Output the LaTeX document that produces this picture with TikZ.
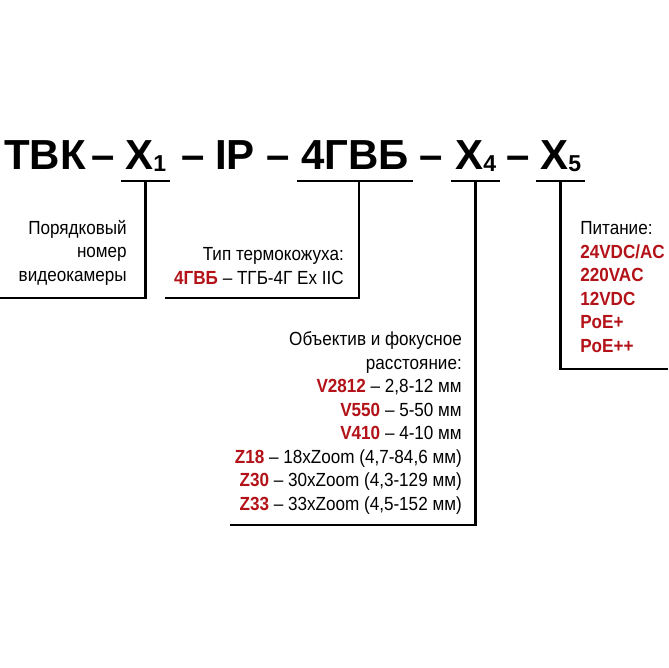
\documentclass[tikz,border=0pt]{standalone}
\usepackage{fontspec}
\setmainfont{Liberation Sans}
\newfontfamily\narrowfont[FakeStretch=0.9]{Liberation Sans}
\usetikzlibrary{positioning}
\definecolor{codered}{RGB}{178,18,24}
\newcommand{\idx}[1]{\raisebox{-2pt}{\fontsize{23}{23}\selectfont #1}}
\newcommand{\kod}[1]{\textcolor{codered}{\textbf{#1}}}

\begin{document}
\begin{tikzpicture}[x=1pt, y=-1pt, line width=2.5pt]
          % Стили для частей обозначения и подписей
          \tikzstyle{title} = [inner sep=0pt, anchor=base west, font=\fontsize{42}{42}\selectfont\bfseries]
          \tikzstyle{field} = [title, inner xsep=3pt, text depth=10pt]
          \tikzstyle{note} = [inner sep=0pt, font=\narrowfont\fontsize{19}{23.5}\selectfont]

          \useasboundingbox (0,0) rectangle (668,668);

          % Обозначение
          \node [title] (tvk) at (3,170) {ТВК};
          \node [title] (dash1) at (90,170) {–};
          \node [field] (x1) at (121,170) {X\idx{1}};
          \node [title] (dash2) at (180,170) {–};
          \node [title] (ip) at (214,170) {IP};
          \node [title] (dash3) at (265,170) {–};
          \node [field] (shell) at (297,170) {4ГВБ};
          \node [title] (dash4) at (418,170) {–};
          \node [field] (x4) at (451,170) {X\idx{4}};
          \node [title] (dash5) at (505,170) {–};
          \node [field] (x5) at (536,170) {X\idx{5}};

          % Подписи (привязка по последней строке)
          \node [note, align=right, anchor=base east] (numtxt) at (128,281) {Порядковый\\номер\\видеокамеры};
          \node [note, align=right, anchor=base east] (shelltxt) at (345,284) {Тип термокожуха:\\\kod{4ГВБ} – ТГБ-4Г Ex IIC};
          \node [note, align=right, anchor=base east] (lenstxt) at (463,510) {Объектив и фокусное\\расстояние:\\\kod{V2812} – 2,8-12 мм\\\kod{V550} – 5-50 мм\\\kod{V410} – 4-10 мм\\\kod{Z18} – 18xZoom (4,7-84,6 мм)\\\kod{Z30} – 30xZoom (4,3-129 мм)\\\kod{Z33} – 33xZoom (4,5-152 мм)};
          \node [note, align=left, anchor=base west] (powtxt) at (579,352) {Питание:\\\kod{24VDC/AC}\\\kod{220VAC}\\\kod{12VDC}\\\kod{PoE+}\\\kod{PoE++}};

          % Концы выносок
          \coordinate (end1) at (0,298);
          \coordinate (end2) at (165,298);
          \coordinate (end4) at (230,525);
          \coordinate (end5) at (668,369);

          % Выноски
          \draw (x1.south west) -- (x1.south east);
          \draw (x1.south) |- (end1);
          \draw (shell.south west) -- (shell.south east);
          \draw ([xshift=4pt]shell.south) |- (end2);
          \draw (x4.south west) -- (x4.south east);
          \draw (x4.south) |- (end4);
          \draw (x5.south west) -- (x5.south east);
          \draw (x5.south) |- (end5);
        \end{tikzpicture}
\end{document}
